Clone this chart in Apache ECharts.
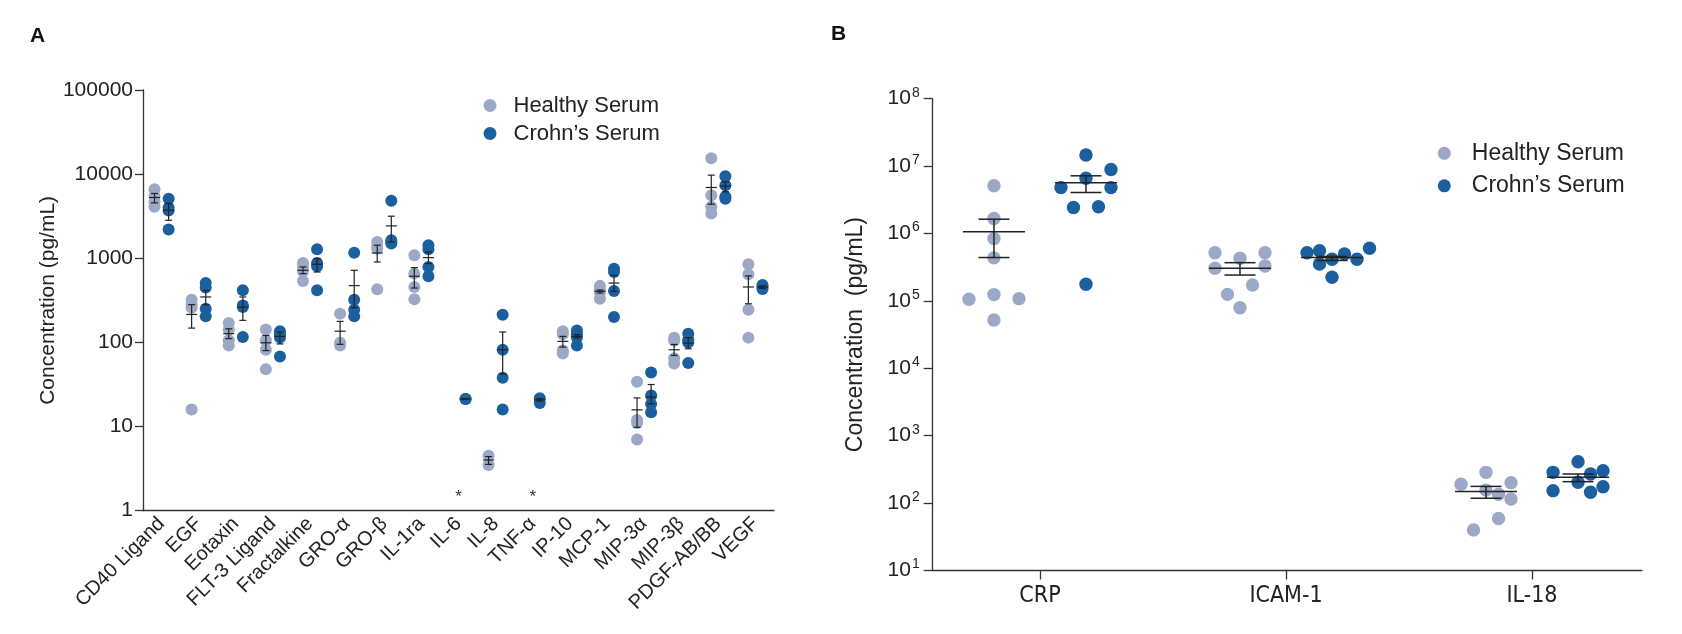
<!DOCTYPE html>
<html>
<head>
<meta charset="utf-8">
<script src="https://cdn.jsdelivr.net/npm/echarts@6/dist/echarts.min.js"></script>
<style>
html,body{margin:0;padding:0;background:#fff;}
#chart{width:1682px;height:634px;}
</style>
</head>
<body>
<div id="chart"></div>
<script>
// ---------- Panel A data ----------
const categoriesA = ['CD40 Ligand','EGF','Eotaxin','FLT-3 Ligand','Fractalkine','GRO-α','GRO-β','IL-1ra','IL-6','IL-8','TNF-α','IP-10','MCP-1','MIP-3α','MIP-3β','PDGF-AB/BB','VEGF'];
const healthyA = [
  [6600,5500,4700,4100],
  [322,280,258,16],
  [170,142,106,92],
  [142,106,82,48],
  [880,789,700,537],
  [219,99,92],
  [1564,1400,1302,428],
  [1086,657,456,325],
  [],
  [4.5,3.5],
  [],
  [136,125,80,74],
  [470,420,395,330],
  [34,12,11,7],
  [114,105,65,56],
  [15400,5600,4100,3400],
  [849,645,245,114]
];
const crohnA = [
  [5100,4000,3700,2200],
  [508,448,252,204],
  [416,275,263,116],
  [136,125,114,68],
  [1280,880,803,416],
  [1167,322,245,204],
  [4818,1636,1550,1495],
  [1429,1280,789,611],
  [21.3,21.3],
  [213,82,38,16],
  [21.7,19.1],
  [139,125,115,92],
  [753,687,409,200],
  [44,23.4,18.6,14.8],
  [127,108,100,57],
  [9460,7400,5370,5100],
  [480,455,430]
];
const healthyMeanA = [5270,215,127,99,720,136,1157,611,null,4.0,null,103,405,15.8,81.8,6940,456];
const healthyLoA   = [4560,148,111,80,656,95,904,443,null,3.55,null,88,386,9.8,70,4395,288];
const healthyHiA   = [5890,281,145,121,789,178,1429,774,null,4.4,null,118,419,21.9,94.6,9730,617];
const crohnMeanA   = [3720,347,263,118,849,473,2426,1018,21.3,82,20.8,118,508,22.4,98,7200,455];
const crohnLoA     = [2830,280,183,96,687,259,1564,865,21.3,42,20.1,113,405,18.6,84,6170,440];
const crohnHiA     = [4480,416,347,133,990,720,3163,1189,21.3,133,21.5,124,628,31.6,114,8110,470];
const notDetectedA = ['IL-6','TNF-α'];
const notDetectedValue = 1.6;
const yTicksA = [1,10,100,1000,10000,100000];

// ---------- Panel B data ----------
const categoriesB = ['CRP','ICAM-1','IL-18'];
const healthyB = [
  [5.1e6,1.67e6,8.4e5,4.35e5,1.24e5,1.08e5,1.06e5,5.2e4],
  [4.29e5,5.19e5,5.19e5,3.3e5,3.05e5,1.72e5,1.25e5,7.9e4],
  [286,201,190,156,135,115,59,40]
];
const crohnB = [
  [1.46e7,6.6e6,8.9e6,4.8e6,4.8e6,2.49e6,2.43e6,1.77e5],
  [2.24e5,4.14e5,4.14e5,5.19e5,4.97e5,5.56e5,6.03e5,3.52e5],
  [411,303,286,270,204,175,153,145]
];
const healthyMeanB = [1.06e6,3.05e5,148];
const healthyLoB   = [4.4e5,2.42e5,118];
const healthyHiB   = [1.63e6,3.69e5,177];
const crohnMeanB   = [5.65e6,4.4e5,241];
const crohnLoB     = [4.06e6,3.98e5,208];
const crohnHiB     = [7.18e6,4.57e5,270];

// ---------- styles ----------
const HEALTHY = '#9ba8c6';
const CROHN = '#1b5f9f';
const INK = '#222';
const AXIS = '#333';
const FONT = '"Liberation Sans", Arial, sans-serif';
const NARROW = '"Liberation Sans Narrow", "DejaVu Sans Condensed", sans-serif';

function pointsData(groups){
  const out = [];
  groups.forEach((g,i)=>g.forEach((v,k)=>out.push([i,v,k])));
  return out;
}
function statsData(m,lo,hi){
  const out = [];
  m.forEach((v,i)=>{ if(v!=null) out.push([i,v,lo[i],hi[i]]); });
  return out;
}

function dotsA(sign,color){
  return function(params, api){
    const i = api.value(0), v = api.value(1);
    const c = api.coord([i,v]);
    const band = api.size([1,0],[i,v])[0];
    return {type:'circle', shape:{cx:c[0]+sign*0.19*band, cy:c[1], r:6}, style:{fill:color}};
  };
}
function statsRender(sign, frac, halfMean, halfCap, lw){
  return function(params, api){
    const i = api.value(0);
    const m = api.value(1), lo = api.value(2), hi = api.value(3);
    const cm = api.coord([i,m]);
    const unit = api.size([1,0],[i,m])[0];
    const x = cm[0] + sign*frac*unit;
    const yl = api.coord([i,lo])[1], yh = api.coord([i,hi])[1];
    const st = {stroke:INK, lineWidth:lw};
    return {type:'group', children:[
      {type:'line', shape:{x1:x-halfMean,y1:cm[1],x2:x+halfMean,y2:cm[1]}, style:st},
      {type:'line', shape:{x1:x,y1:yl,x2:x,y2:yh}, style:st},
      {type:'line', shape:{x1:x-halfCap,y1:yl,x2:x+halfCap,y2:yl}, style:st},
      {type:'line', shape:{x1:x-halfCap,y1:yh,x2:x+halfCap,y2:yh}, style:st}
    ]};
  };
}

// simple column-scatter (beeswarm) layout in pixel space
function swarm(ys, h, D){
  const cand = [0,2,-2,1,-1,3,-3,4,-4,5,-5,6,-6].map(k=>k*h);
  const xs = [];
  for(let i=0;i<ys.length;i++){
    for(const c of cand){
      let ok = true;
      for(let j=0;j<i;j++){
        const dx=c-xs[j], dy=ys[i]-ys[j];
        if(dx*dx+dy*dy < D*D - 1e-6){ ok=false; break; }
      }
      if(ok){ xs[i]=c; break; }
    }
  }
  const near = i => ys.map((y,j)=>j).filter(j=>j!==i && Math.abs(ys[j]-ys[i])<D);
  for(let i=0;i<ys.length;i++){
    if(xs[i]!==0) continue;
    const n = near(i);
    if(n.length===1){
      const j=n[0];
      if(Math.abs(Math.abs(xs[j])-2*h)<1e-6 && near(j).length===1){
        xs[i] = ys[i] < ys[j] ? h : -h;
        xs[j] = -xs[i];
      }
    }
  }
  return xs;
}
function dotsB(sign,color,groups){
  return function(params, api){
    const cat = api.value(0), v = api.value(1), k = api.value(2);
    const ys = groups[cat].map(u=>api.coord([cat,u])[1]);
    const xs = swarm(ys, 12.5, 12.5);
    const c = api.coord([cat,v]);
    const unit = api.size([1,0],[cat,v])[0];
    return {type:'circle', shape:{cx:c[0]+sign*0.187*unit+xs[k], cy:c[1], r:6.7}, style:{fill:color}};
  };
}

const chart = echarts.init(document.getElementById('chart'), null, {renderer:'canvas'});
const option = {
  backgroundColor:'#fff',
  animation:false,
  textStyle:{fontFamily:FONT},
  title:[
    {text:'A', left:30, top:26, padding:0, textStyle:{fontSize:21, fontWeight:'bold', color:'#111', fontFamily:FONT}},
    {text:'B', left:831, top:24, padding:0, textStyle:{fontSize:21, fontWeight:'bold', color:'#111', fontFamily:FONT}}
  ],
  legend:[
    {orient:'vertical', left:483.5, top:94.5, padding:0, itemWidth:13, itemHeight:13, itemGap:6,
     data:[{name:'Healthy Serum',icon:'circle'},{name:'Crohn’s Serum',icon:'circle'}],
     textStyle:{fontSize:22, lineHeight:22, color:INK, fontFamily:FONT, padding:[0,0,0,12]}},
    {orient:'vertical', left:1437.8, top:141.8, padding:0, itemWidth:13, itemHeight:13, itemGap:9.5,
     data:[{name:'Healthy Serum',icon:'circle'},{name:'Crohn’s Serum',icon:'circle'}],
     textStyle:{fontSize:23, lineHeight:23, color:INK, fontFamily:FONT, padding:[0,0,0,16]}}
  ],
  grid:[
    {left:143, top:90, width:631, height:420.7, containLabel:false},
    {left:932.7, top:98.7, width:709.3, height:471.8, containLabel:false}
  ],
  xAxis:[
    {gridIndex:0, type:'category', data:categoriesA, boundaryGap:true,
     axisLine:{lineStyle:{color:AXIS, width:1.3}},
     axisTick:{alignWithLabel:true, length:9, lineStyle:{color:AXIS, width:1.3}},
     axisLabel:{rotate:45, interval:0, margin:10, fontSize:20, color:INK, fontFamily:FONT},
     splitLine:{show:false}},
    {gridIndex:1, type:'value', min:-0.436, max:2.447,
     axisLine:{onZero:false, lineStyle:{color:AXIS, width:1.3}},
     axisTick:{show:true, customValues:[0,1,2], length:9, lineStyle:{color:AXIS, width:1.3}},
     axisLabel:{customValues:[0,1,2], margin:14, fontSize:23, color:INK, fontFamily:NARROW,
       formatter:v=>categoriesB[Math.round(v)]},
     splitLine:{show:false}}
  ],
  yAxis:[
    {gridIndex:0, type:'log', logBase:10, min:yTicksA[0], max:yTicksA[yTicksA.length-1],
     name:'Concentration (pg/mL)', nameLocation:'middle', nameGap:80,
     nameTextStyle:{fontSize:21, color:INK, fontFamily:FONT},
     axisLine:{show:true, onZero:false, lineStyle:{color:AXIS, width:1.3}},
     axisTick:{show:true, length:8, lineStyle:{color:AXIS, width:1.3}},
     axisLabel:{margin:10, fontSize:21, color:INK, fontFamily:FONT, formatter:v=>String(Math.round(v))},
     splitLine:{show:false}, minorTick:{show:false}},
    {gridIndex:1, type:'log', logBase:10, min:10, max:1e8,
     name:'Concentration  (pg/mL)', nameLocation:'middle', nameGap:66,
     nameTextStyle:{fontSize:23, color:INK, fontFamily:FONT},
     axisLine:{show:true, onZero:false, lineStyle:{color:AXIS, width:1.3}},
     axisTick:{show:true, length:9, lineStyle:{color:AXIS, width:1.3}},
     axisLabel:{margin:13, color:INK,
       formatter:v=>'{b|10}{s|'+Math.round(Math.log10(v))+'}',
       rich:{b:{fontSize:21, fontFamily:FONT, color:INK, lineHeight:26},
             s:{fontSize:14, fontFamily:FONT, color:INK, verticalAlign:'top', padding:[0,0,0,1]}}},
     splitLine:{show:false}}
  ],
  series:[
    {name:'Healthy Serum', type:'custom', xAxisIndex:0, yAxisIndex:0, itemStyle:{color:HEALTHY},
     renderItem:dotsA(-1,HEALTHY), data:pointsData(healthyA), z:2},
    {name:'Crohn’s Serum', type:'custom', xAxisIndex:0, yAxisIndex:0, itemStyle:{color:CROHN},
     renderItem:dotsA(1,CROHN), data:pointsData(crohnA), z:2},
    {name:'Healthy SEM A', type:'custom', xAxisIndex:0, yAxisIndex:0,
     renderItem:statsRender(-1,0.19,5.5,3.5,1.2), data:statsData(healthyMeanA,healthyLoA,healthyHiA), z:4},
    {name:'Crohn SEM A', type:'custom', xAxisIndex:0, yAxisIndex:0,
     renderItem:statsRender(1,0.19,5.5,3.5,1.2), data:statsData(crohnMeanA,crohnLoA,crohnHiA), z:4},
    {name:'n.d.', type:'custom', xAxisIndex:0, yAxisIndex:0,
     renderItem:function(params, api){
       const c = api.coord([api.value(0), api.value(1)]);
       return {type:'text', x:c[0], y:c[1]+4, style:{text:'*', fontSize:17, fill:'#333', align:'center', verticalAlign:'middle', fontFamily:FONT}};
     },
     data:notDetectedA.map(n=>[categoriesA.indexOf(n), notDetectedValue]), z:4},
    {name:'Healthy Serum', type:'custom', xAxisIndex:1, yAxisIndex:1, itemStyle:{color:HEALTHY},
     renderItem:dotsB(-1,HEALTHY,healthyB), data:pointsData(healthyB), z:2},
    {name:'Crohn’s Serum', type:'custom', xAxisIndex:1, yAxisIndex:1, itemStyle:{color:CROHN},
     renderItem:dotsB(1,CROHN,crohnB), data:pointsData(crohnB), z:2},
    {name:'Healthy SEM B', type:'custom', xAxisIndex:1, yAxisIndex:1,
     renderItem:statsRender(-1,0.187,31,15.5,1.5), data:statsData(healthyMeanB,healthyLoB,healthyHiB), z:4},
    {name:'Crohn SEM B', type:'custom', xAxisIndex:1, yAxisIndex:1,
     renderItem:statsRender(1,0.187,31,15.5,1.5), data:statsData(crohnMeanB,crohnLoB,crohnHiB), z:4}
  ]
};
chart.setOption(option);
</script>
</body>
</html>
